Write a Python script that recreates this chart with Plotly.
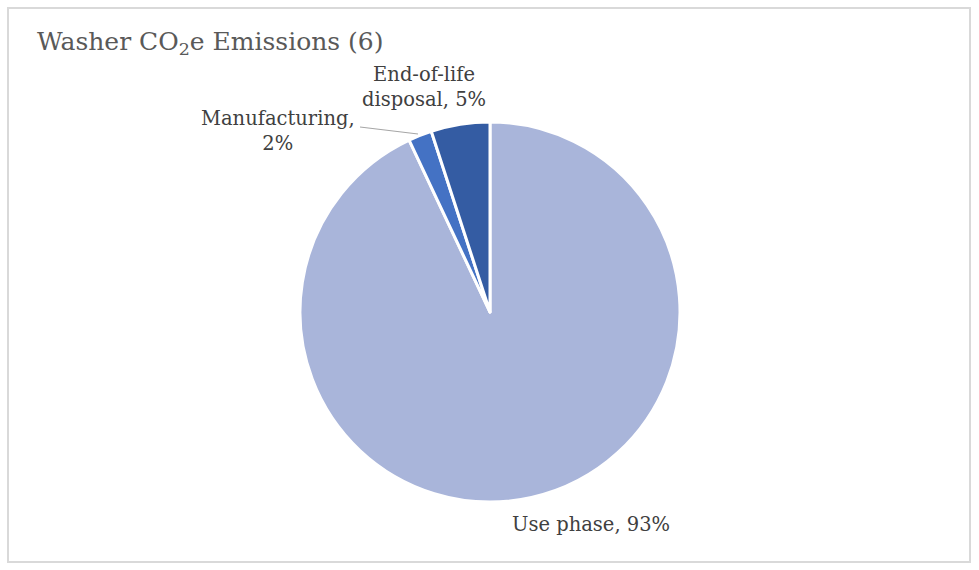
import plotly.graph_objects as go

# slice data (clockwise from 12 o'clock)
labels = ["Use phase", "Manufacturing", "End-of-life disposal"]
values = [93, 2, 5]
colors = ["#A9B5DA", "#4472C4", "#345CA3"]

W, H = 979, 570


def px(x, y):
    # pixel -> paper coords
    return x / W, 1 - y / H


fig = go.Figure(go.Pie(
    labels=labels,
    values=values,
    sort=False,
    direction="clockwise",
    rotation=0,
    marker=dict(colors=colors, line=dict(color="white", width=3)),
    textinfo="none",
    hoverinfo="label+percent",
    domain=dict(x=[300 / W, 680 / W], y=[1 - 502 / H, 1 - 122 / H]),
    showlegend=False,
))

label_font = dict(family="Georgia, DejaVu Serif, serif", size=19.5, color="#404040")
label_pos = [(591, 524), (278, 131), (424, 87)]
label_text = [
    f"{labels[0]}, {values[0]}%",
    f"{labels[1]},<br>{values[1]}%",
    "End-of-life<br>disposal, %d%%" % values[2],
]

annotations = []
for (x, y), t in zip(label_pos, label_text):
    ax_, ay_ = px(x, y)
    annotations.append(dict(x=ax_, y=ay_, xref="paper", yref="paper", text=t,
                            showarrow=False, font=label_font, align="center",
                            xanchor="center", yanchor="middle"))

tx, ty = px(35, 43)
annotations.append(dict(x=tx, y=ty, xref="paper", yref="paper",
                        text="Washer CO<sub>2</sub>e Emissions (6)", showarrow=False,
                        xanchor="left", yanchor="middle",
                        font=dict(family="Georgia, DejaVu Serif, serif", size=25, color="#595959")))

# leader line for manufacturing
lx0, ly0 = px(360, 127)
lx1, ly1 = px(418, 134)

fig.update_layout(
    width=W, height=H,
    margin=dict(l=0, r=0, t=0, b=0),
    paper_bgcolor="white",
    annotations=annotations,
    shapes=[
        dict(type="rect", xref="paper", yref="paper",
             x0=8 / W, x1=970 / W, y0=1 - 562 / H, y1=1 - 8 / H,
             line=dict(color="#D9D9D9", width=2)),
        dict(type="line", xref="paper", yref="paper",
             x0=lx0, y0=ly0, x1=lx1, y1=ly1,
             line=dict(color="#A6A6A6", width=1.2)),
    ],
)

fig.write_html("out.html", config={"displayModeBar": False},
               post_script="document.body.style.margin='0';")
